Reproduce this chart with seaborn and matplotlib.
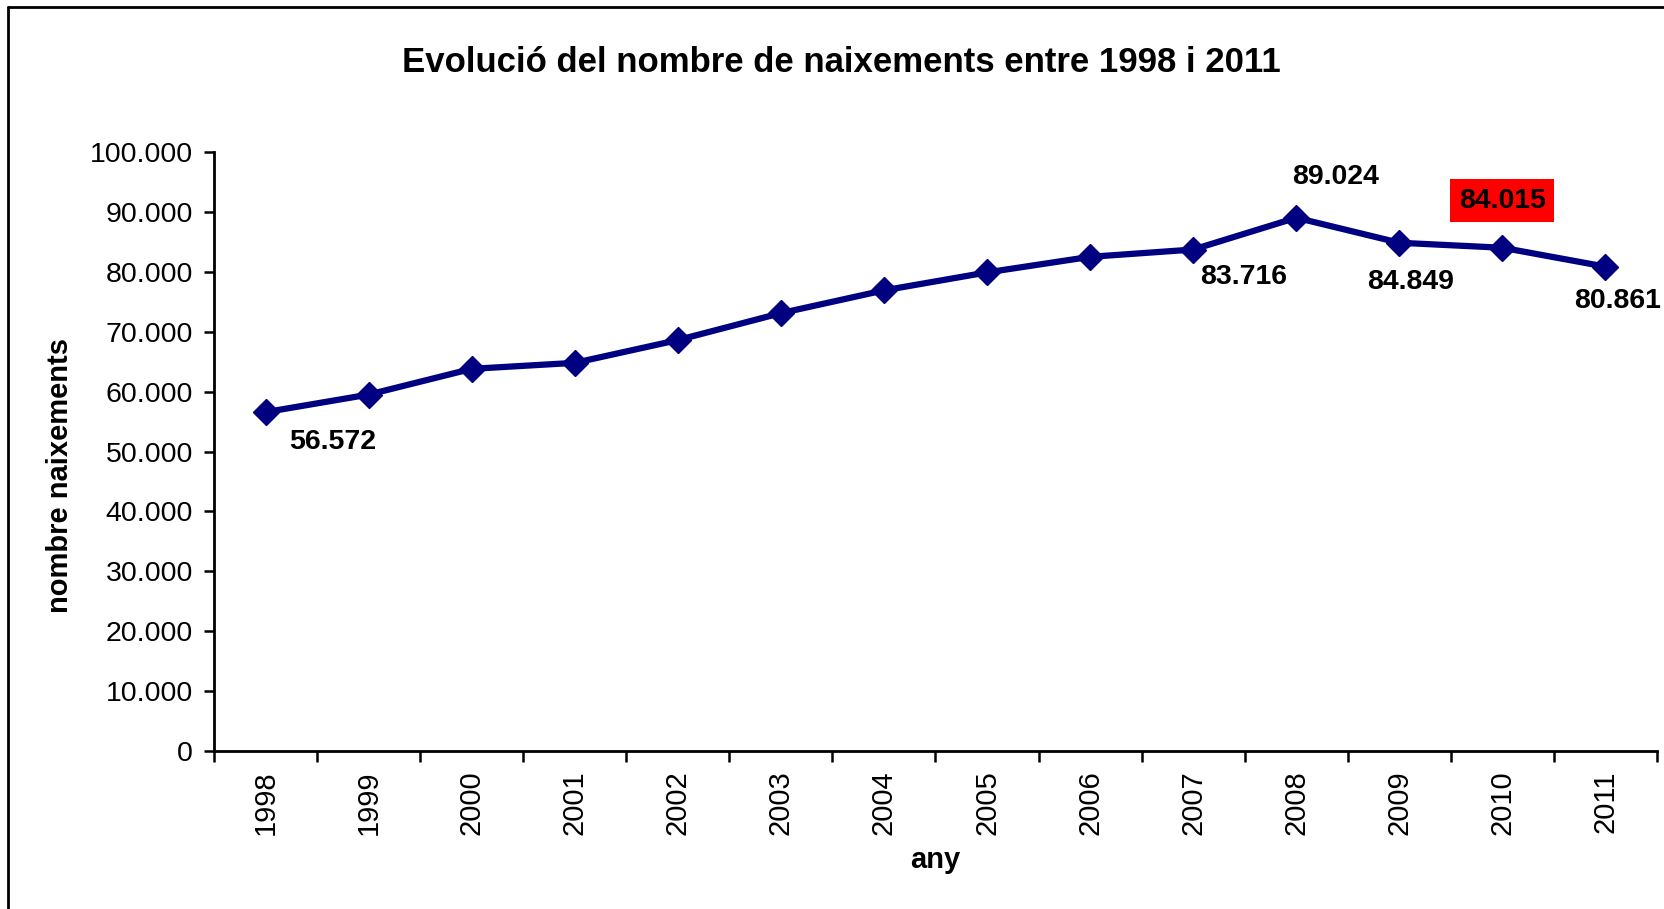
import matplotlib
matplotlib.use("Agg")
import matplotlib.pyplot as plt
import seaborn as sns
import pandas as pd
from matplotlib.lines import Line2D
from matplotlib.ticker import FixedLocator, FuncFormatter

years = ["1998", "1999", "2000", "2001", "2002", "2003", "2004",
         "2005", "2006", "2007", "2008", "2009", "2010", "2011"]
births = [56572, 59500, 63800, 64800, 68600, 73100, 76900,
          79900, 82500, 83716, 89024, 84849, 84015, 80861]
labelled = {"1998": "56.572", "2007": "83.716", "2008": "89.024",
            "2009": "84.849", "2010": "84.015", "2011": "80.861"}
title = "Evolució del nombre de naixements entre 1998 i 2011"
xlabel = "any"
ylabel = "nombre naixements"

sns.set_style("white")
plt.rcParams['font.family'] = ['Liberation Sans', 'DejaVu Sans']
plt.rcParams.update({"text.color": "black", "axes.labelcolor": "black",
                     "xtick.color": "black", "ytick.color": "black"})

fig = plt.figure(figsize=(16.65, 9.09), dpi=100)
ax = fig.add_axes([214/1665, 1-751/909, (1657-214)/1665, (751-152)/909])

df = pd.DataFrame({"year": years, "births": births})
sns.lineplot(data=df, x="year", y="births", ax=ax, color="#000080",
             linewidth=4.5, marker="D", markersize=13, markeredgecolor="#000080",
             markeredgewidth=1, clip_on=False)

ax.set_xlim(-0.5, len(years) - 0.5)
ax.set_ylim(0, 100000)
ax.set_yticks(range(0, 100001, 10000))
ax.yaxis.set_major_formatter(FuncFormatter(lambda v, p: f"{int(v):,}".replace(",", ".")))
ax.tick_params(axis="y", labelsize=20.5, length=7, width=1.8, direction="out", pad=8, left=True)

ax.set_xticks(range(len(years)))
ax.set_xticklabels(years, rotation=90, fontsize=21)
ax.xaxis.set_minor_locator(FixedLocator([i - 0.5 for i in range(len(years) + 1)]))
ax.tick_params(axis="x", which="major", length=0, pad=14)
ax.tick_params(axis="x", which="minor", length=8, width=1.8, direction="out", bottom=True)

for s in ["top", "right"]:
    ax.spines[s].set_visible(False)
for s in ["left", "bottom"]:
    ax.spines[s].set_linewidth(2)
    ax.spines[s].set_color("black")

ax.set_xlabel(xlabel, fontsize=21, fontweight="bold", labelpad=8)
ax.set_ylabel(ylabel, fontsize=21, fontweight="bold")
ax.yaxis.set_label_coords(-0.097, 0.46)

offsets = {"1998": (67, -30), "2007": (50, -27), "2008": (39, 41),
           "2009": (11, -39), "2010": (0, 47), "2011": (12, -34)}
for i, y in enumerate(years):
    if y in labelled:
        dx, dy = offsets[y]
        kw = {}
        if y == "2010":
            kw["bbox"] = dict(boxstyle="square,pad=0.3", fc="#ff0000", ec="none")
        ax.annotate(labelled[y], (i, births[i]), xytext=(dx, dy),
                    textcoords="offset pixels", ha="center", va="center",
                    fontsize=20.5, fontweight="bold", annotation_clip=False, **kw)

fig.text(841/1665, 1-62/909, title, ha="center", va="center",
         fontsize=25, fontweight="bold")

# figure border (left and top visible)
fig.add_artist(Line2D([8/1665, 8/1665], [0, 1-7/909], transform=fig.transFigure,
                      color="black", lw=2))
fig.add_artist(Line2D([8/1665, 1], [1-7/909, 1-7/909], transform=fig.transFigure,
                      color="black", lw=2))

fig.savefig("out.png", dpi=100)
